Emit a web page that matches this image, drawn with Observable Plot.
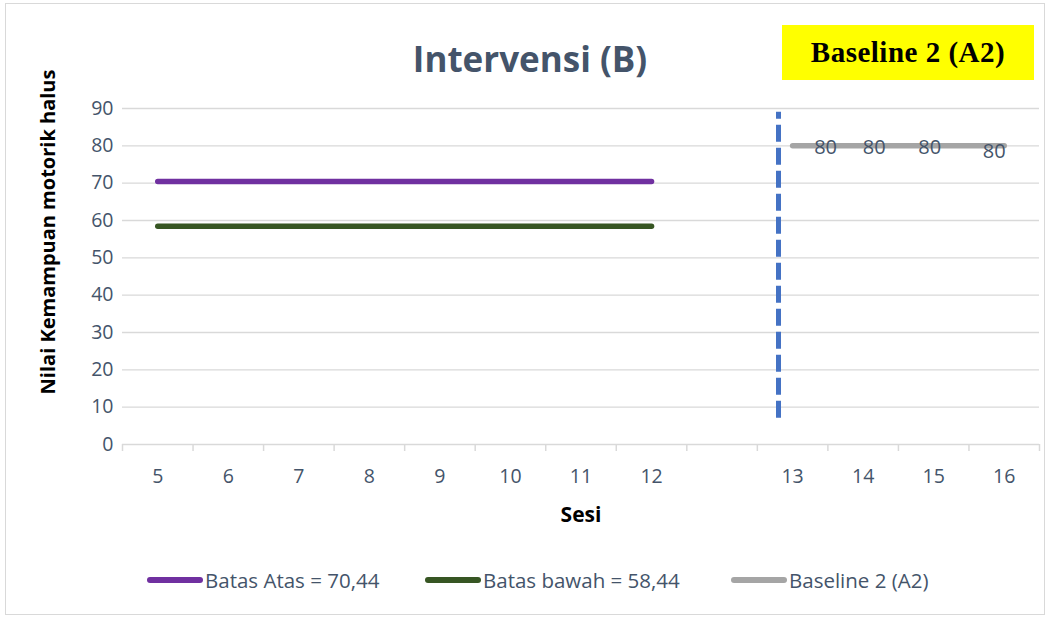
<!DOCTYPE html>
<html>
<head>
<meta charset="utf-8">
<script src="https://cdn.jsdelivr.net/npm/d3@7"></script>
<script src="https://cdn.jsdelivr.net/npm/@observablehq/plot@0.6"></script>
<style>
  html, body { margin: 0; padding: 0; background: #fff; }
  #wrap { position: relative; width: 1050px; height: 620px; overflow: hidden; font-family: "Open Sans", "Noto Sans", sans-serif; }
  #frame { position: absolute; left: 5px; top: 3px; width: 1040px; height: 612px; border: 1px solid #d9d9d9; box-sizing: border-box; }
  #title { position: absolute; left: 0; width: 1060px; top: 35px; text-align: center; font-size: 35px; line-height: 48px; font-weight: 700; color: #44546a; }
  #badge { position: absolute; left: 782px; top: 25px; width: 252px; height: 55px; background: #ffff00; font-family: "Liberation Serif", "DejaVu Serif", serif; font-weight: 700; font-size: 29px; color: #000; display: flex; align-items: center; justify-content: center; letter-spacing: 0.5px; }
  #ylabel { position: absolute; left: 47px; top: 232px; transform: translate(-50%, -50%) rotate(-90deg); white-space: nowrap; font-weight: 700; font-size: 20px; color: #000; }
  #chart { position: absolute; left: 0; top: 0; }
  #legend { position: absolute; top: 566px; left: 0; width: 1050px; height: 28px; font-size: 20.5px; color: #44546a; }
  .item { position: absolute; display: flex; align-items: center; white-space: nowrap; }
  .sw { display: inline-block; width: 56px; height: 6px; border-radius: 3px; margin-right: 2px; }
</style>
</head>
<body>
<div id="wrap">
  <div id="frame"></div>
  <div id="chart"></div>
  <div id="title">Intervensi (B)</div>
  <div id="badge">Baseline 2 (A2)</div>
  <div id="ylabel">Nilai Kemampuan motorik halus</div>
  <div id="legend"></div>
</div>
<script>
// Category slots along the x axis (one empty slot between phases)
const sessions = ["5", "6", "7", "8", "9", "10", "11", "12", "", "13", "14", "15", "16"];

// Series
const batasAtasSessions = ["5", "6", "7", "8", "9", "10", "11", "12"];
const batasAtasValues   = [70.44, 70.44, 70.44, 70.44, 70.44, 70.44, 70.44, 70.44];
const batasBawahSessions = ["5", "6", "7", "8", "9", "10", "11", "12"];
const batasBawahValues   = [58.44, 58.44, 58.44, 58.44, 58.44, 58.44, 58.44, 58.44];
const baseline2Sessions = ["13", "14", "15", "16"];
const baseline2Values   = [80, 80, 80, 80];

const yTicks = [0, 10, 20, 30, 40, 50, 60, 70, 80, 90];

const legendLabels = ["Batas Atas = 70,44", "Batas bawah = 58,44", "Baseline 2 (A2)"];
const seriesColors = ["#7030a0", "#375623", "#a5a5a5"];

// Phase change line (between the empty slot and session 13)
const phaseLine = { slot: 8.8, from: 7, to: 89 };

const idx = s => sessions.indexOf(s);
const atas = batasAtasSessions.map((s, i) => ({ x: idx(s), y: batasAtasValues[i] }));
const bawah = batasBawahSessions.map((s, i) => ({ x: idx(s), y: batasBawahValues[i] }));
const base2 = baseline2Sessions.map((s, i) => ({ x: idx(s), y: baseline2Values[i] }));

const centers = sessions.map((_, i) => i);
const bounds = d3.range(sessions.length + 1).map(i => i - 0.5);

const labelDx = [33, 11, -4, -10];
const labelDy = [2, 2, 2, 6];

const chart = Plot.plot({
  width: 1050,
  height: 530,
  marginLeft: 122,
  marginRight: 11,
  marginTop: 108,
  marginBottom: 86,
  style: { fontFamily: "'Open Sans', 'Noto Sans', sans-serif", background: "transparent", overflow: "visible" },
  x: { type: "linear", domain: [-0.5, sessions.length - 0.5] },
  y: { domain: [0, 90] },
  marks: [
    Plot.gridY(yTicks.filter(d => d > 0), { stroke: "#d9d9d9", strokeOpacity: 1, strokeWidth: 1.3 }),
    Plot.ruleY([0], { stroke: "#d9d9d9", strokeWidth: 1.5 }),
    Plot.axisY(yTicks, { tickSize: 0, tickPadding: 9, fontSize: 19.5, color: "#44546a", label: null }),
    Plot.axisX(bounds, { tickSize: 7, text: null, stroke: "#d9d9d9", strokeWidth: 1.5, label: null }),
    Plot.axisX(centers, {
      tickSize: 0, tickPadding: 25, fontSize: 19.5, color: "#44546a",
      tickFormat: i => sessions[i],
      label: "Sesi", labelAnchor: "center", labelArrow: "none", labelOffset: 77
    }),
    Plot.lineY(atas, { x: "x", y: "y", stroke: seriesColors[0], strokeWidth: 5.5, strokeLinecap: "round" }),
    Plot.lineY(bawah, { x: "x", y: "y", stroke: seriesColors[1], strokeWidth: 5.5, strokeLinecap: "round" }),
    Plot.lineY(base2, { x: "x", y: "y", stroke: seriesColors[2], strokeWidth: 5.5, strokeLinecap: "round" }),
    ...base2.map((d, i) => Plot.text([d], {
      x: "x", y: "y", text: dd => String(dd.y), dx: labelDx[i], dy: labelDy[i],
      fontSize: 20, fill: "#44546a"
    })),
    Plot.ruleX([phaseLine], { x: "slot", y1: "from", y2: "to", stroke: "#4472c4", strokeWidth: 5, strokeDasharray: "17,6" })
  ]
});

// style x-axis label bold/black
chart.querySelectorAll("g[aria-label='x-axis label'] text").forEach(t => {
  t.setAttribute("font-weight", "700");
  t.setAttribute("font-size", "21");
  t.setAttribute("fill", "#000");
});
document.getElementById("chart").appendChild(chart);

// Legend
const legend = document.getElementById("legend");
const legendLeft = [147, 425, 731];
legendLabels.forEach((lab, i) => {
  const it = document.createElement("div");
  it.className = "item";
  it.style.left = legendLeft[i] + "px";
  const sw = document.createElement("span");
  sw.className = "sw";
  sw.style.background = seriesColors[i];
  const tx = document.createElement("span");
  tx.textContent = lab;
  it.appendChild(sw);
  it.appendChild(tx);
  legend.appendChild(it);
});
</script>
</body>
</html>
